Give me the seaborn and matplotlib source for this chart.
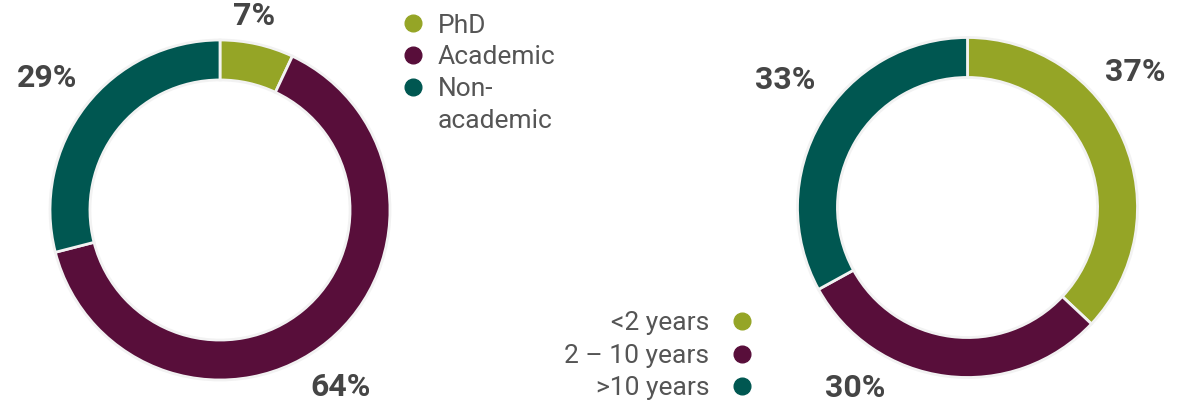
import numpy as np
import matplotlib
matplotlib.use("Agg")
import matplotlib.pyplot as plt
import seaborn as sns
from matplotlib.lines import Line2D

sns.set_theme(style="white")
plt.rcParams['font.family'] = ['Roboto', 'DejaVu Sans']

# dati
stage_labels = ['PhD', 'Academic', 'Non-academic']
stage_values = [7, 64, 29]
years_labels = ['<2 years', '2 – 10 years', '>10 years']
years_values = [37, 30, 33]
colori = sns.color_palette(['#95A526', '#580E3A', '#005751'])

# spostamento delle etichette rispetto al centro dello spicchio (gradi, raggio)
nudge_left = [(2.6, 1.16), (-5.2, 1.26), (0.3, 1.28)]
nudge_right = [(15.6, 1.27), (-24.6, 1.25), (-4.4, 1.31)]

W, H = 1186, 403
fig = plt.figure(figsize=(W / 100, H / 100), dpi=100)
R = 170


def donut(cx, cy, values, nudge):
    ax = fig.add_axes([(cx - R) / W, (H - cy - R) / H, 2 * R / W, 2 * R / H])
    ax.pie(values, colors=colori, startangle=90, counterclock=False, radius=1.0,
           wedgeprops=dict(width=0.235, edgecolor='#f2f2f2', linewidth=2))
    ax.set_xlim(-1, 1)
    ax.set_ylim(-1, 1)
    ax.set_aspect('equal')
    ax.axis('off')
    tot = sum(values)
    cum = 0
    for v, (da, rr) in zip(values, nudge):
        mid = 90 - (cum + v / 2) / tot * 360 + da
        cum += v
        a = np.deg2rad(mid)
        ax.text(rr * np.cos(a), rr * np.sin(a), f"{v}%", ha='center', va='center',
                fontsize=23, fontweight='bold', color='#454545', clip_on=False)
    return ax


ax1 = donut(220, 210, stage_values, nudge_left)
ax2 = donut(967.5, 207.5, years_values, nudge_right)


def pallino(c):
    return Line2D([], [], marker='o', linestyle='', markersize=12,
                  markerfacecolor=c, markeredgecolor=c)


# legenda di sinistra: "Non-academic" va a capo, il pallino resta sulla prima riga
h1, l1 = [], []
for lab, c in zip(stage_labels, colori):
    if lab == 'Non-academic':
        h1 += [pallino(c), Line2D([], [], linestyle='', marker='')]
        l1 += ['Non-', 'academic']
    else:
        h1.append(pallino(c))
        l1.append(lab)

leg1 = fig.legend(h1, l1, loc='upper left',
                  bbox_to_anchor=(389 / W, 1 - 3 / H), frameon=False,
                  fontsize=19, labelcolor='#555555', handletextpad=0.45,
                  labelspacing=0.3, handlelength=1.0, borderaxespad=0)

h2 = [pallino(c) for c in colori]
leg2 = fig.legend(h2, years_labels, loc='lower right',
                  bbox_to_anchor=(766 / W, -8 / H), frameon=False,
                  fontsize=19, labelcolor='#555555', handletextpad=0.75,
                  labelspacing=0.33, handlelength=1.0, markerfirst=False,
                  borderaxespad=0)

fig.savefig('out.png', dpi=100)
